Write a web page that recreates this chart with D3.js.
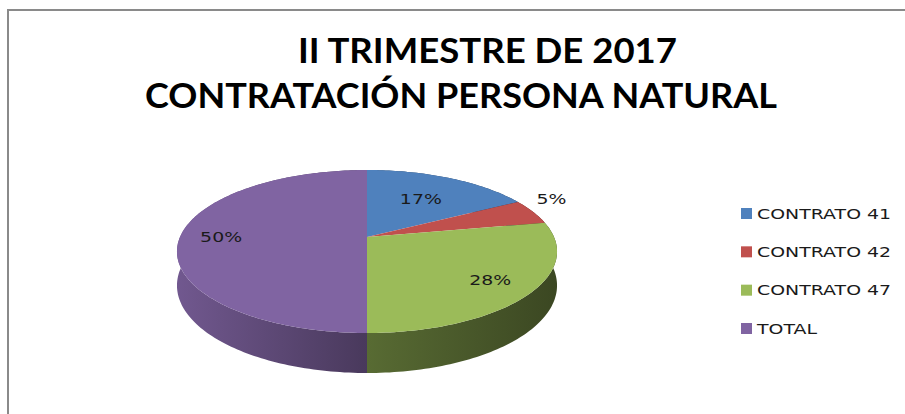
<!DOCTYPE html>
<html>
<head>
<meta charset="utf-8">
<script src="https://cdn.jsdelivr.net/npm/d3@7"></script>
<style>
  body { margin: 0; background: #fff; }
</style>
</head>
<body>
<script>
//chart data
const categories = ["CONTRATO 41", "CONTRATO 42", "CONTRATO 47", "TOTAL"];
const values = [17, 5, 28, 50];
const colors = ["#4f81bd", "#c0504d", "#9bbb59", "#8064a2"];
const titleLines = ["II TRIMESTRE DE 2017", "CONTRATACIÓN PERSONA NATURAL"];

let width = 905, height = 414;

let svg = d3.select("body").append("svg")
	.attr("width", width)
	.attr("height", height);

//frame of the chart area
svg.append("rect")
	.attr("x", 8).attr("y", 10)
	.attr("width", 940).attr("height", 440)
	.attr("fill", "#fff")
	.attr("stroke", "#8a8a8a")
	.attr("stroke-width", 2);

//stretch factor, the original picture is wider than the font
let stretch = 1.35;

//title
let titleSpec = [{x: 298, y: 63, w: 379}, {x: 145, y: 108, w: 632}];
svg.selectAll("text.title")
	.data(titleLines)
	.enter().append("text")
		.attr("class", "title")
		.attr("x", (d, i) => titleSpec[i].x)
		.attr("y", (d, i) => titleSpec[i].y)
		.attr("font-family", "Lato, 'Open Sans', sans-serif")
		.attr("font-weight", "bold")
		.attr("font-size", 35)
		.attr("fill", "#000")
		.attr("textLength", (d, i) => titleSpec[i].w)
		.attr("lengthAdjust", "spacingAndGlyphs")
		.text(d => d);

//3d pie geometry with a bit of perspective
let cx = 367, cy = 237;
let B = 187, A = 78.9, k = 0.178, depth = 32.9;

function proj(a, r, z) {
	let X = r * Math.sin(a), Y = -r * Math.cos(a);
	let w = 1 / (1 - k * Y);
	return [cx + B * X * w, cy + A * Y * w + z * depth * w];
}

function arcPts(a0, a1, r, z) {
	let n = Math.max(2, Math.ceil((a1 - a0) / 0.02));
	return d3.range(n + 1).map(i => proj(a0 + (a1 - a0) * i / n, r, z));
}

let pie = d3.pie().sort(null).value(d => d);
let arcs = pie(values);
let total = d3.sum(values);

let defs = svg.append("defs");
let shade = [[0, 0.88], [0.5, 0.57], [1, 0.38]];

arcs.forEach((d, i) => {
	let base = d3.rgb(colors[i]);
	let grad = defs.append("linearGradient")
		.attr("id", "side" + i)
		.attr("gradientUnits", "userSpaceOnUse")
		.attr("x1", cx - 190).attr("x2", cx + 190)
		.attr("y1", 0).attr("y2", 0);
	shade.forEach(s => {
		grad.append("stop")
			.attr("offset", s[0])
			.attr("stop-color", d3.rgb(base.r * s[1], base.g * s[1], base.b * s[1]));
	});
});

let line = d3.line();
let g = svg.append("g");

//side walls first
g.selectAll("path.side")
	.data(arcs)
	.enter().append("path")
		.attr("class", "side")
		.attr("fill", (d, i) => `url(#side${i})`)
		.attr("d", d => {
			let top = arcPts(d.startAngle, d.endAngle, 1, 0);
			let bot = arcPts(d.startAngle, d.endAngle, 1, 1).reverse();
			return line(top.concat(bot)) + "Z";
		});

//top faces
g.selectAll("path.top")
	.data(arcs)
	.enter().append("path")
		.attr("class", "top")
		.attr("fill", (d, i) => colors[i])
		.attr("d", d => line([[cx, cy]].concat(arcPts(d.startAngle, d.endAngle, 1, 0))) + "Z");

//data labels
let labelR = [0.62, 1.12, 0.78, 0.78];
let labelDy = [0, -10, 0, 0];
let fmt = d3.format(".0%");

g.selectAll("text.label")
	.data(arcs)
	.enter().append("text")
		.attr("class", "label")
		.attr("x", (d, i) => proj((d.startAngle + d.endAngle) / 2, labelR[i], 0)[0])
		.attr("y", (d, i) => proj((d.startAngle + d.endAngle) / 2, labelR[i], 0)[1] + labelDy[i])
		.attr("dy", "0.36em")
		.attr("text-anchor", "middle")
		.attr("font-family", "'DejaVu Sans', sans-serif")
		.attr("font-size", 14)
		.attr("fill", "#1a1a1a")
		.text(d => fmt(d.value / total));

//legend
let legendY = d3.scalePoint()
	.domain(categories)
	.range([213.5, 328.5]);

let legend = svg.append("g");

legend.selectAll("rect")
	.data(categories)
	.enter().append("rect")
		.attr("x", 741)
		.attr("y", d => legendY(d) - 5.5)
		.attr("width", 11)
		.attr("height", 11)
		.attr("fill", (d, i) => colors[i]);

legend.selectAll("text")
	.data(categories)
	.enter().append("text")
		.attr("x", 757)
		.attr("y", d => legendY(d))
		.attr("dy", "0.36em")
		.attr("font-family", "'DejaVu Sans', sans-serif")
		.attr("font-size", 14)
		.attr("fill", "#1a1a1a")
		.text(d => d);

//widen the small texts like the original picture
svg.selectAll("text.label, g text").each(function() {
	let t = d3.select(this);
	if (t.classed("title")) return;
	let len = this.getComputedTextLength();
	t.attr("textLength", len * stretch).attr("lengthAdjust", "spacingAndGlyphs");
});
</script>
</body>
</html>
